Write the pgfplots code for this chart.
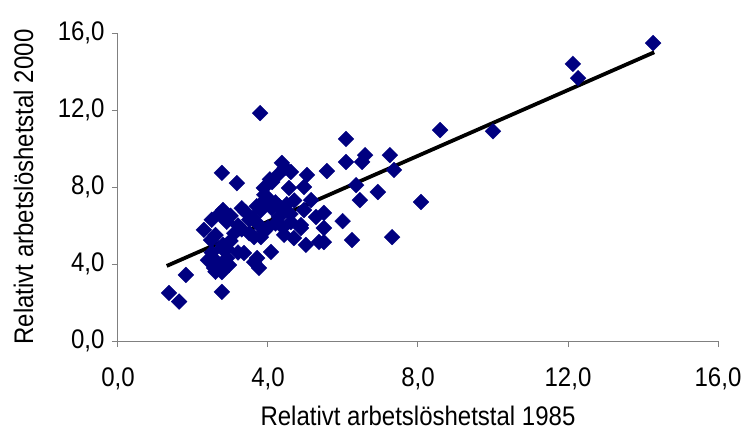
\documentclass[border=0pt]{standalone}
\usepackage{fontspec}
\setmainfont{Liberation Sans}
\usepackage{pgfplots}
\pgfplotsset{compat=1.18}
\definecolor{marknavy}{HTML}{000080}
\definecolor{axisgray}{HTML}{808080}

\begin{document}
\begin{tikzpicture}
\begin{axis}[
  at={(0,0)}, anchor=south west,
  scale only axis, width=600pt, height=308pt,
  xmin=0, xmax=16, ymin=0, ymax=16,
  xtick={0,4,...,16}, ytick={0,4,...,16},
  axis x line=bottom, axis y line=left,
  axis line style={-, axisgray, line width=1pt},
  tick style={axisgray, line width=1pt},
  tick align=outside, major tick length=6pt,
  clip=false,
  font=\fontsize{24}{28}\selectfont,
  /pgf/number format/.cd, fixed, fixed zerofill, precision=1, use comma, assume math mode=true,
  /pgfplots/.cd,
  xticklabel style={yshift=-17pt, yscale=1.12},
  yticklabel style={xshift=-4pt, yscale=1.12},
  xlabel={Relativt arbetslöshetstal 1985},
  ylabel={Relativt arbetslöshetstal 2000},
  xlabel style={yshift=-8pt, yscale=1.12},
  ylabel style={yshift=17pt, yscale=1.12},
]
% regions (municipalities): relative unemployment 1985 vs 2000
\addplot[only marks, mark=square*, mark size=5.6pt,
  mark options={rotate=45, fill=marknavy, draw=marknavy, line width=0.3pt}]
  coordinates {
  (1.36,2.49) (1.63,2.05) (1.81,3.43) (2.77,2.55) (3.79,11.84)
  (6.08,10.49) (8.59,10.96) (10.0,10.9) (12.13,14.4) (12.27,13.66) (14.27,15.48)
  (6.08,9.30) (6.59,9.66) (6.51,9.30) (7.25,9.66) (7.36,8.88) (5.57,8.83)
  (6.35,8.10) (6.93,7.74) (6.45,7.32) (8.08,7.22) (5.49,6.65) (5.99,6.23)
  (5.49,5.87) (5.49,5.14) (6.24,5.25) (7.31,5.40) (5.01,4.99) (5.36,5.14)
  (4.88,5.87) (2.77,8.73) (3.17,8.20) (4.37,9.25) (4.61,8.78) (5.04,8.62)
  (4.96,8.00) (4.11,8.26) (3.89,7.95) (4.56,7.95) (3.97,7.48) (5.15,7.32)
  (4.96,6.80) (5.28,6.44) (4.61,6.18) (4.29,6.44) (3.81,6.80) (3.71,6.13)
  (4.88,6.03) (2.29,5.77) (2.48,5.25) (2.77,4.83) (2.91,4.31) (2.64,4.10)
  (2.56,3.79) (2.77,3.58) (2.96,3.95) (3.36,4.57) (3.63,4.10) (3.63,5.40)
  (3.81,5.40) (3.71,4.31) (3.76,3.79) (4.43,5.51) (4.69,5.35) (4.08,4.62)
  (2.50,6.30) (2.70,6.60) (2.80,6.80) (2.90,6.20) (3.00,6.50) (3.20,6.00)
  (3.30,6.90) (3.40,6.70) (3.50,6.30) (3.60,6.40) (3.70,7.00) (3.80,7.10)
  (3.90,7.60) (4.00,7.30) (4.10,6.90) (4.20,7.20) (4.30,7.00) (4.40,6.80)
  (4.50,7.10) (4.60,6.60) (3.10,5.60) (3.30,5.80) (2.60,5.50) (2.80,5.00)
  (3.00,5.20) (3.50,5.60) (3.90,5.70) (4.00,5.90) (4.20,6.10) (4.40,5.90)
  (4.70,7.30) (2.40,4.20) (2.50,4.60) (2.60,3.60) (2.85,3.90) (2.90,4.80)
  (3.20,4.60) (4.05,8.40) (4.30,8.70) (4.45,9.00)
  };
% least-squares trend line
\addplot[black, line width=3.8pt] coordinates {(1.3,3.9) (14.3,15.0)};
\end{axis}
\pgfresetboundingbox
\path[use as bounding box] (-118pt,-96pt) rectangle (630pt,341pt);
\end{tikzpicture}
\end{document}
